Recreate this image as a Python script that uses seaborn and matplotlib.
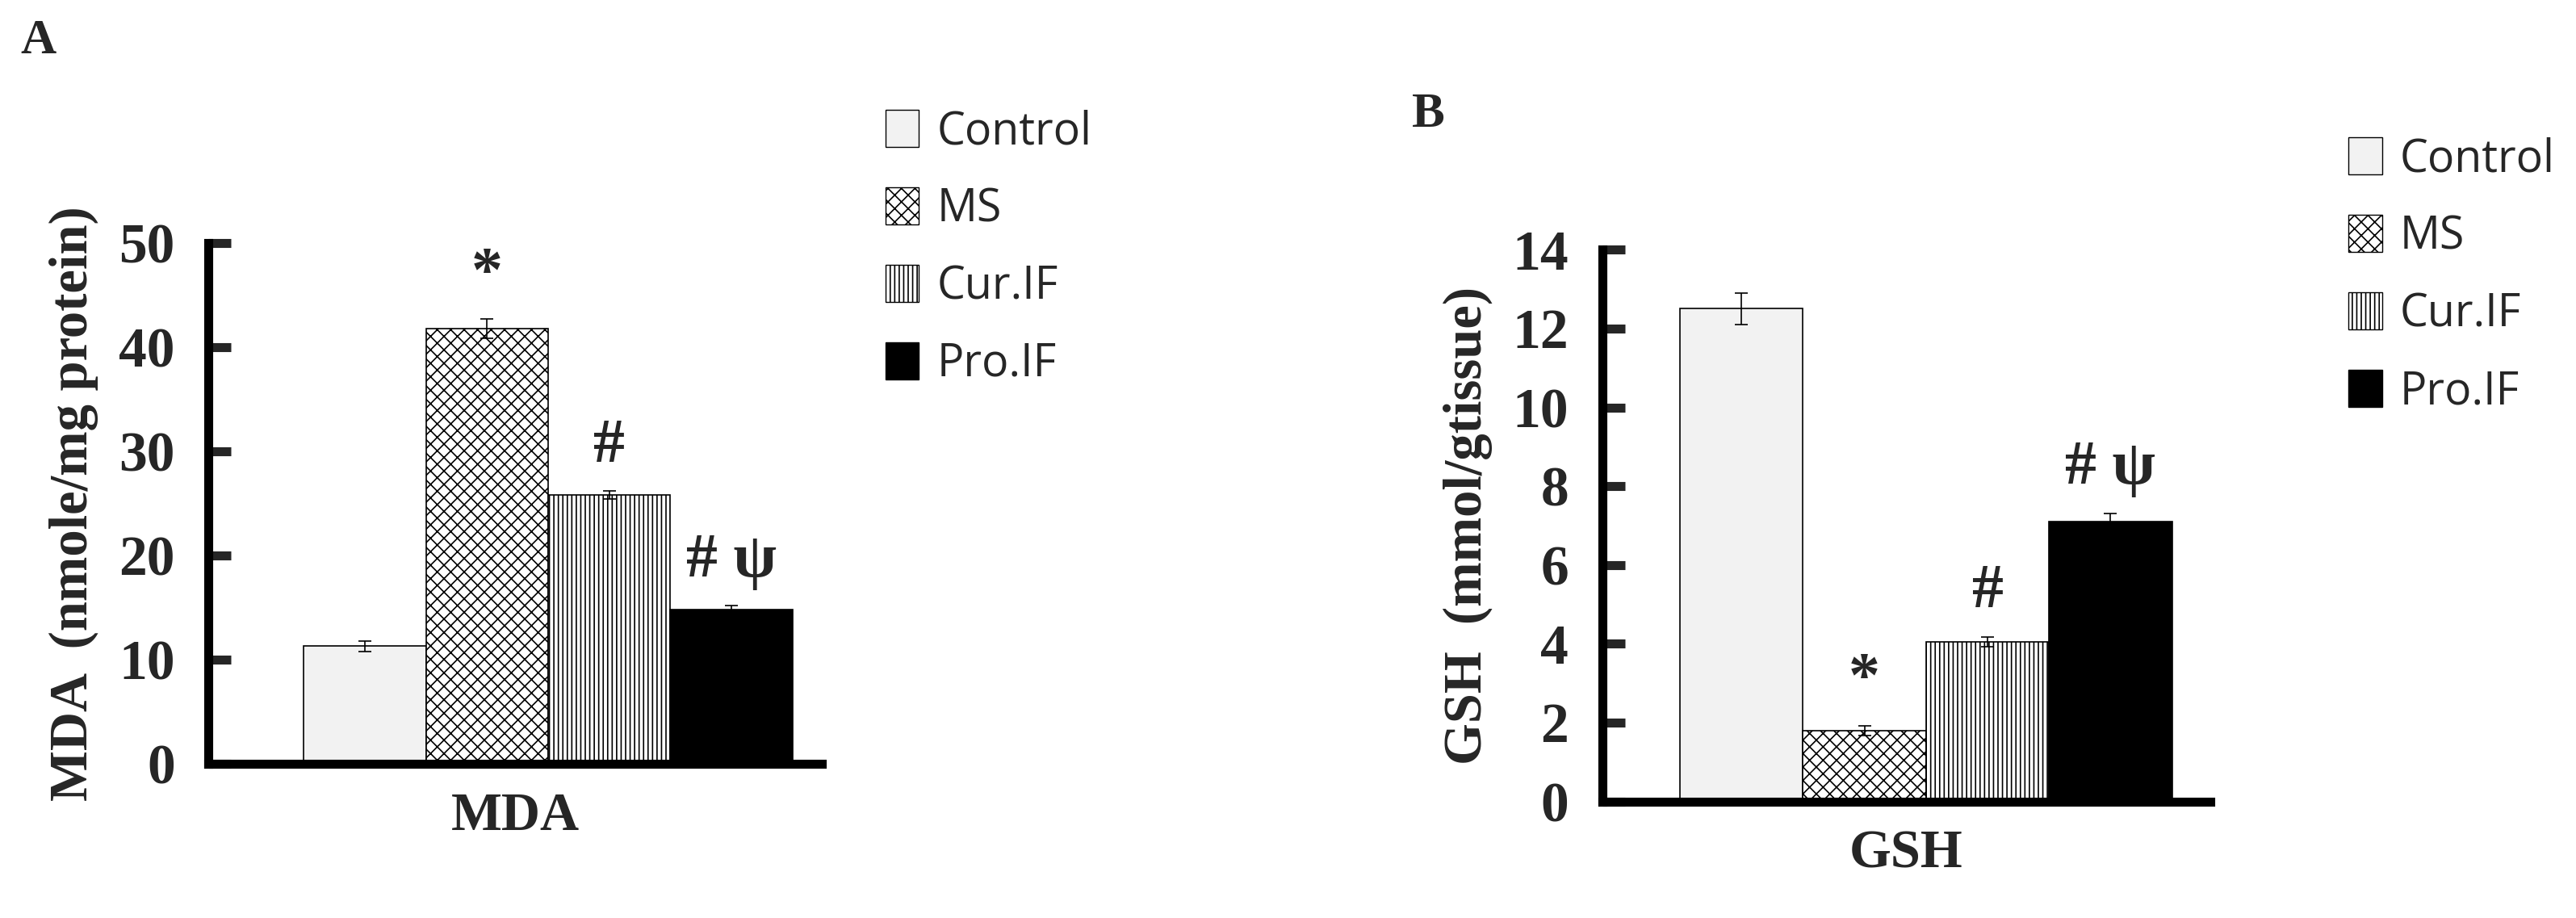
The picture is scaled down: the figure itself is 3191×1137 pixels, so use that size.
import numpy as np
import pandas as pd
import matplotlib
matplotlib.use("Agg")
import matplotlib.pyplot as plt
import seaborn as sns
from matplotlib.patches import Patch

groups = ["Control", "MS", "Cur.IF", "Pro.IF"]
mda_values = [11.3, 41.8, 25.8, 14.8]
mda_err = [0.5, 0.9, 0.4, 0.4]
mda_marks = ["", "*", "#", "# \u03c8"]
gsh_values = [12.5, 1.8, 4.05, 7.1]
gsh_err = [0.4, 0.12, 0.12, 0.2]
gsh_marks = ["", "*", "#", "# \u03c8"]

colors = ["#f2f2f2", "white", "white", "black"]
hatches = ["", "xx", "|||", ""]

sns.set_style("white")
plt.rcParams["font.family"] = ["Liberation Serif", "DejaVu Serif"]
plt.rcParams["hatch.linewidth"] = 1.2


def draw_panel(fig, rect, values, errs, marks, ylim, yticks, ylabel, xlabel, xlim):
    ax = fig.add_axes(rect)
    df = pd.DataFrame({"group": groups, "value": values})
    sns.barplot(data=df, x="group", y="value", order=groups, width=1.0,
                palette=colors, hue="group", legend=False, ax=ax,
                edgecolor="black", linewidth=1.2)
    for bar, h in zip(ax.patches, hatches):
        bar.set_hatch(h)
    centers = np.arange(len(groups))
    ax.errorbar(centers, values, yerr=errs, fmt="none", ecolor="black",
                elinewidth=1.2, capsize=6, capthick=1.2)
    for x, v, e, m in zip(centers, values, errs, marks):
        if m:
            ax.text(x, v + e + ylim[1] * 0.03, m, ha="center", va="bottom",
                    fontsize=56, fontweight="bold")
    ax.set_xlim(*xlim)
    ax.set_ylim(*ylim)
    ax.set_yticks(yticks)
    ax.set_yticklabels([str(t) for t in yticks], fontsize=50, fontweight="bold")
    ax.set_xticks([])
    ax.set_xlabel(xlabel, fontsize=48, fontweight="bold", labelpad=25)
    ax.set_ylabel(ylabel, fontsize=48, fontweight="bold", labelpad=18)
    ax.tick_params(axis="y", direction="in", length=20, width=8, pad=30, left=True)
    for s in ["top", "right"]:
        ax.spines[s].set_visible(False)
    for s in ["left", "bottom"]:
        ax.spines[s].set_linewidth(8)
        ax.spines[s].set_color("black")
    return ax


fig = plt.figure(figsize=(31.91, 11.37), dpi=100)

draw_panel(fig, [0.081, 0.168, 0.238, 0.567], mda_values, mda_err, mda_marks,
           (0, 50), [0, 10, 20, 30, 40, 50], "MDA  (nmole/mg protein)", "MDA",
           (-1.28, 3.74))
draw_panel(fig, [0.622, 0.127, 0.236, 0.601], gsh_values, gsh_err, gsh_marks,
           (0, 14), list(range(0, 15, 2)), "GSH  (mmol/gtissue)", "GSH",
           (-1.13, 3.81))

handles = [Patch(facecolor=c, edgecolor="black", hatch=h)
           for c, h in zip(colors, hatches)]
legend_font = {"family": "Open Sans", "size": 40}
for anchor in [(0.328, 0.925), (0.896, 0.895)]:
    fig.legend(handles, groups, loc="upper left", bbox_to_anchor=anchor,
               frameon=False, prop=legend_font, labelspacing=0.7,
               handlelength=0.75, handleheight=0.9, handletextpad=0.4)

fig.text(0.008, 0.955, "A", fontsize=44, fontweight="bold", va="center")
fig.text(0.548, 0.875, "B", fontsize=44, fontweight="bold", va="center")

fig.savefig("out.png", dpi=100)
